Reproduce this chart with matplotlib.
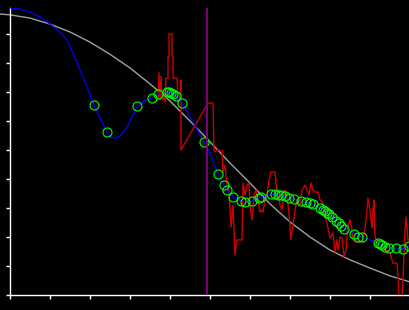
import matplotlib
matplotlib.use("Agg")
import matplotlib.pyplot as plt

# model curve (gray)
gray_x = [-0.25, 0, 0.5, 1.0, 1.5, 2.0, 2.5, 3.0, 3.5, 4.0, 4.5, 5.0, 5.5, 6.0, 6.5,
          7.0, 7.5, 8.0, 8.5, 9.0, 9.5, 10.0]
gray_y = [9.69, 9.66, 9.55, 9.34, 9.07, 8.72, 8.30, 7.83, 7.28, 6.69, 6.00, 5.28, 4.55,
          3.86, 3.14, 2.52, 2.00, 1.55, 1.21, 0.93, 0.66, 0.45]

# smoothed curve (blue)
blue_x = [0, 0.25, 0.5, 0.75, 1.0, 1.25, 1.425, 1.625, 1.75, 1.875, 2.1, 2.25, 2.425, 2.525,
          2.625, 2.75, 2.925, 3.05, 3.175, 3.35, 3.55, 3.7, 3.95, 4.125, 4.3, 4.575, 4.85,
          5.0, 5.2, 5.35, 5.425, 5.575, 5.775, 5.875, 6.05, 6.225, 6.375, 6.55, 6.75, 7.0,
          7.25, 7.5, 7.625, 7.75, 7.925, 8.05, 8.175, 8.275, 8.375, 8.625, 8.8, 9.0, 9.2,
          9.375, 9.5, 9.65, 9.825, 9.975, 10.05]
blue_y = [9.90, 9.86, 9.76, 9.59, 9.34, 9.07, 8.79, 8.17, 7.76, 7.34, 6.55, 6.10, 5.62, 5.45,
          5.41, 5.48, 5.79, 6.14, 6.48, 6.69, 6.79, 6.93, 7.00, 6.90, 6.62, 5.97, 5.28,
          4.90, 4.17, 3.79, 3.62, 3.38, 3.24, 3.21, 3.24, 3.34, 3.41, 3.48, 3.45, 3.34,
          3.24, 3.17, 3.10, 3.00, 2.86, 2.69, 2.55, 2.38, 2.28, 2.10, 2.00, 1.90, 1.79,
          1.66, 1.62, 1.62, 1.59, 1.69, 1.79]

# sample points (green circles)
pts_x = [2.1, 2.425, 3.175, 3.55, 3.7, 3.925, 3.975, 4.025, 4.075, 4.15, 4.3, 4.85, 5.2,
         5.35, 5.425, 5.575, 5.775, 5.875, 6.05, 6.225, 6.275, 6.525, 6.625, 6.7, 6.775,
         6.875, 6.975, 7.1, 7.275, 7.4, 7.5, 7.575, 7.75, 7.825, 7.875, 7.925, 7.975,
         8.05, 8.15, 8.225, 8.275, 8.35, 8.6, 8.7, 8.8, 9.2, 9.25, 9.3, 9.375, 9.475,
         9.65, 9.825, 9.975]
pts_y = [6.55, 5.62, 6.52, 6.79, 6.93, 7.00, 7.00, 6.97, 6.93, 6.86, 6.62, 5.28, 4.17,
         3.79, 3.62, 3.38, 3.24, 3.21, 3.24, 3.34, 3.38, 3.48, 3.48, 3.45, 3.45, 3.41,
         3.34, 3.31, 3.24, 3.21, 3.17, 3.14, 3.00, 2.93, 2.90, 2.83, 2.79, 2.69, 2.55,
         2.48, 2.38, 2.28, 2.10, 2.00, 2.00, 1.79, 1.76, 1.72, 1.66, 1.62, 1.62, 1.59,
         1.69]

# raw signal (red)
red_x = [3.7, 3.725, 3.75, 3.775, 3.8, 3.825, 3.85, 3.875, 3.9, 3.95, 3.95, 3.975, 3.975,
         4.05, 4.05, 4.075, 4.075, 4.175, 4.2, 4.25, 4.275, 4.275, 4.95, 5.075, 5.1, 5.125,
         5.175, 5.3, 5.325, 5.375, 5.425, 5.475, 5.525, 5.575, 5.625, 5.675, 5.8, 5.825,
         5.875, 5.925, 5.975, 6.0, 6.05, 6.1, 6.15, 6.2, 6.25, 6.3, 6.325, 6.375, 6.425,
         6.475, 6.525, 6.625, 6.65, 6.7, 6.75, 6.8, 6.825, 6.875, 6.925, 6.975, 7.025,
         7.075, 7.125, 7.175, 7.25, 7.3, 7.375, 7.425, 7.475, 7.525, 7.575, 7.625, 7.7,
         7.75, 7.825, 7.875, 7.95, 8.0, 8.075, 8.125, 8.175, 8.2, 8.25, 8.3, 8.35, 8.4,
         8.45, 8.5, 8.55, 8.575, 8.625, 8.825, 8.875, 8.925, 8.95, 9.0, 9.05, 9.075, 9.1,
         9.125, 9.2, 9.3, 9.375, 9.5, 9.575, 9.675, 9.725, 9.8, 9.825, 9.875, 9.9, 9.95,
         10.0]
red_y = [6.72, 7.66, 6.72, 7.55, 6.90, 6.72, 6.97, 6.66, 7.48, 7.48, 8.21, 8.21, 9.00,
         9.00, 8.21, 8.21, 7.48, 7.48, 6.62, 6.86, 7.41, 5.00, 6.62, 6.62, 5.00, 4.93,
         5.00, 4.97, 4.21, 4.48, 3.79, 3.62, 2.34, 3.10, 1.38, 1.90, 1.90, 3.86, 3.45,
         3.79, 3.86, 3.10, 2.59, 3.45, 3.62, 3.28, 2.86, 2.93, 2.86, 3.28, 3.45, 3.97,
         4.24, 4.24, 3.86, 3.45, 3.10, 2.93, 3.28, 3.62, 3.52, 2.76, 1.90, 2.41, 2.93,
         3.28, 3.10, 3.62, 3.79, 3.62, 3.45, 3.86, 3.62, 3.55, 3.55, 3.28, 3.17, 2.76,
         2.31, 1.97, 2.14, 1.48, 1.90, 1.55, 2.00, 1.97, 1.31, 1.55, 2.41, 2.59, 2.24,
         1.90, 1.83, 1.83, 2.31, 2.93, 3.34, 2.93, 2.31, 2.93, 3.28, 2.00, 1.79, 1.72,
         1.55, 1.45, 1.10, 1.10, 0.0, 0.0, 0.52, 2.24, 2.69, 1.90, 1.90]

marker_x = 4.925

fig = plt.figure(figsize=(4.1, 3.1), dpi=100, facecolor="black")
ax = fig.add_axes([10 / 410, 15 / 310, 400 / 410, 287 / 310])
ax.set_facecolor("black")

ax.plot(gray_x, gray_y, color="#a0a0a0", lw=1.0, clip_on=False, zorder=2)
ax.plot(red_x, red_y, color="#cc0000", lw=1.0, zorder=3)
ax.plot(blue_x, blue_y, color="#0000ff", lw=0.9, zorder=4)
ax.plot(pts_x, pts_y, ls="none", marker="o", ms=6.5, mfc="none", mec="#00ff00",
        mew=0.8, zorder=5)
ax.axvline(marker_x, color="#800080", lw=1.4, zorder=6)

ax.set_xlim(0, 10)
ax.set_ylim(0, 287 / 29)
ax.set_xticks(range(0, 11))
ax.set_yticks(range(0, 10))
ax.set_xticklabels([])
ax.set_yticklabels([])
ax.tick_params(colors="white", direction="out", length=3, width=1)
for s in ["top", "right"]:
    ax.spines[s].set_visible(False)
for s in ["left", "bottom"]:
    ax.spines[s].set_color("white")
    ax.spines[s].set_linewidth(1)

fig.savefig("out.png", dpi=100, facecolor="black")
